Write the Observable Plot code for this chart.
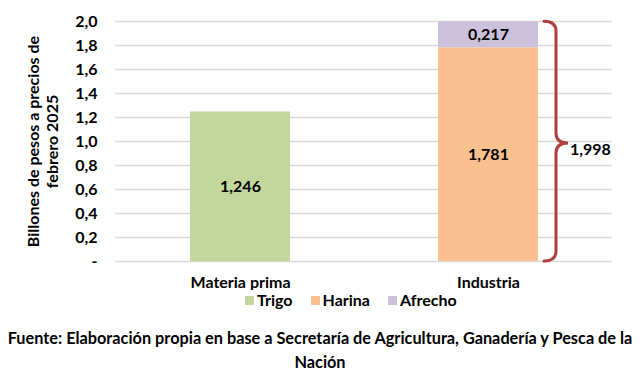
<!DOCTYPE html>
<html>
<head>
<meta charset="utf-8">
<script src="https://cdn.jsdelivr.net/npm/d3@7"></script>
<script src="https://cdn.jsdelivr.net/npm/@observablehq/plot@0.6"></script>
<style>
  body { margin: 0; background: #fff; font-family: Lato, "Open Sans", sans-serif; font-weight: bold; color: #000; }
  #wrap { width: 640px; height: 373px; position: relative; }
  .legend { position: absolute; top: 291px; left: 245px; display: flex; align-items: center; font-size: 16px; line-height: 18px; }
  .legend span.sw { display: inline-block; width: 9px; height: 9px; margin-right: 3px; }
  .legend .item { display: flex; align-items: center; margin-right: 18px; }
  .footer { position: absolute; top: 326px; left: 0; width: 640px; text-align: center; font-size: 16.3px; line-height: 24px; }
</style>
</head>
<body>
<div id="wrap">
  <div id="chart"></div>
  <div class="legend" id="legend"></div>
  <div class="footer">Fuente: Elaboración propia en base a Secretaría de Agricultura, Ganadería y Pesca de la<br>Nación</div>
</div>
<script>
const categories = ["Materia prima", "Industria"];
const seriesNames = ["Trigo", "Harina", "Afrecho"];
const seriesColors = ["#c3d69b", "#fac090", "#ccc1da"];
const trigo = [1.246, 0];
const harina = [0, 1.781];
const afrecho = [0, 0.217];
const industriaTotal = 1.998;
const yTicks = [0, 0.2, 0.4, 0.6, 0.8, 1.0, 1.2, 1.4, 1.6, 1.8, 2.0];
const yLabel = "Billones de pesos a precios de\nfebrero 2025";

const fmt3 = v => v.toFixed(3).replace(".", ",");
const fmtTick = v => v === 0 ? "-" : v.toFixed(1).replace(".", ",");

const data = [];
const seriesVals = [trigo, harina, afrecho];
categories.forEach((c, i) => {
  seriesNames.forEach((s, j) => {
    if (seriesVals[j][i] > 0) data.push({cat: c, serie: s, value: seriesVals[j][i]});
  });
});

const braceColor = "#ae3f3f";

function brace(index, scales, values, dimensions) {
  const x = scales.x, y = scales.y;
  const xr = x("Industria") + x.bandwidth();
  const y0 = y(0), y1 = y(industriaTotal);
  const ym = (y0 + y1) / 2 + 2;
  const a = xr + 6, b = xr + 18, t = xr + 30;
  const r = 10;
  const d = `M${a},${y1} Q${b},${y1} ${b},${y1 + r} L${b},${ym - r} Q${b},${ym} ${t},${ym} Q${b},${ym} ${b},${ym + r} L${b},${y0 - r} Q${b},${y0} ${a},${y0}`;
  const g = d3.create("svg:g");
  g.append("path").attr("d", d).attr("fill", "none").attr("stroke", braceColor).attr("stroke-width", 3).attr("stroke-linecap", "round");
  g.append("text").attr("x", t + 2).attr("y", ym + 7).attr("dy", "0.32em").attr("text-anchor", "start")
    .attr("font-size", 16).attr("font-weight", "bold").attr("fill", "#000").text(fmt3(industriaTotal));
  return g.node();
}

const chart = Plot.plot({
  width: 640,
  height: 290,
  marginTop: 21,
  marginBottom: 29,
  marginLeft: 115,
  marginRight: 28,
  style: {fontFamily: "Lato, 'Open Sans', sans-serif", fontWeight: "bold", fontSize: "16px", color: "#000", background: "#fff"},
  x: {domain: categories, paddingInner: 0.598, paddingOuter: 0.299, label: null},
  y: {domain: [0, 2], label: null},
  color: {domain: seriesNames, range: seriesColors},
  marks: [
    Plot.ruleY(yTicks, {stroke: "#d9d9d9", strokeWidth: 1.3}),
    Plot.axisY({ticks: yTicks, tickFormat: fmtTick, tickSize: 0, tickPadding: 18, label: null, fontSize: 16}),
    Plot.axisX({tickSize: 0, tickPadding: 15, label: null, fontSize: 16}),
    Plot.barY(data, Plot.stackY({x: "cat", y: "value", fill: "serie", z: "serie", order: seriesNames})),
    Plot.text(data, Plot.stackY({x: "cat", y: "value", z: "serie", order: seriesNames, text: d => fmt3(d.value), fontSize: 16, fontWeight: "bold", fill: "#000"})),
    Plot.text([yLabel], {frameAnchor: "left", dx: -73, rotate: -90, text: d => d, textAnchor: "middle", lineAnchor: "middle", fontSize: 16, fontWeight: "bold", fill: "#000", lineHeight: 1.2}),
    brace
  ]
});
document.getElementById("chart").appendChild(chart);

const leg = document.getElementById("legend");
seriesNames.forEach((s, i) => {
  const it = document.createElement("div");
  it.className = "item";
  it.innerHTML = `<span class="sw" style="background:${seriesColors[i]}"></span>${s}`;
  leg.appendChild(it);
});
</script>
</body>
</html>
